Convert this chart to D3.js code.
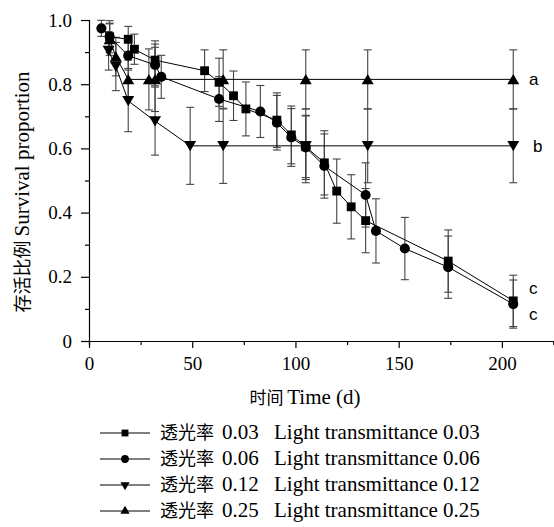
<!DOCTYPE html>
<html lang="zh">
  <head>
    <meta charset="UTF-8" />
    <title>Survival proportion</title>
    <script src="https://d3js.org/d3.v7.min.js"></script>
    <style>
      body { margin: 0; background: #fff; }
      .domain, .tick line { stroke: #000; stroke-width: 1.2; }
      .series { fill: none; stroke: #000; stroke-width: 1; }
      .err { stroke: #444; stroke-width: 1.1; }
    </style>
  </head>
  <body>
    <svg id="canvas" width="554" height="527"></svg>
    <script>
      const SERIF = "Liberation Serif, Times New Roman, DejaVu Serif, serif";
      const CJK = "Noto Sans CJK SC, sans-serif";

      // 数据
      const days03 = [10, 19, 22, 32, 56, 63, 70, 76, 91, 98, 105, 114, 120, 127, 134, 174, 205.5];
      const surv03 = [0.948, 0.94, 0.909, 0.875, 0.842, 0.806, 0.764, 0.723, 0.688, 0.642, 0.605, 0.555, 0.467, 0.418, 0.375, 0.249, 0.125];
      const err03 = [0.05, 0.04, 0.047, 0.06, 0.065, 0.075, 0.077, 0.084, 0.085, 0.09, 0.096, 0.1, 0.1, 0.1, 0.1, 0.097, 0.08];

      const days06 = [6, 10, 19, 32, 35, 63, 83, 91, 98, 105, 114, 134, 139, 153, 174, 205.5];
      const surv06 = [0.974, 0.948, 0.889, 0.86, 0.823, 0.754, 0.715, 0.68, 0.634, 0.603, 0.545, 0.455, 0.343, 0.288, 0.23, 0.115];
      const err06 = [0.025, 0.04, 0.04, 0.065, 0.067, 0.07, 0.081, 0.085, 0.09, 0.1, 0.1, 0.1, 0.1, 0.097, 0.097, 0.075];

      const days12 = [9.5, 13, 19, 32, 49, 65, 105, 135, 205.5];
      const surv12 = [0.904, 0.855, 0.748, 0.685, 0.608, 0.608, 0.608, 0.608, 0.608];
      const err12 = [0.06, 0.075, 0.096, 0.106, 0.12, 0.117, 0.115, 0.115, 0.115];

      const days25 = [10, 13, 19, 29, 32, 65, 105, 135, 205.5];
      const surv25 = [0.94, 0.886, 0.815, 0.815, 0.815, 0.815, 0.815, 0.815, 0.815];
      const err25 = [0.05, 0.06, 0.06, 0.095, 0.1, 0.092, 0.092, 0.092, 0.092];

      const xTicks = [0, 50, 100, 150, 200];
      const yTicks = [0, 0.2, 0.4, 0.6, 0.8, 1.0];
      const groupLetters = ["c", "c", "b", "a"];
      const legendCn = ["透光率", "透光率", "透光率", "透光率"];
      const legendVal = ["0.03", "0.06", "0.12", "0.25"];
      const legendEn = ["Light transmittance 0.03", "Light transmittance 0.06", "Light transmittance 0.12", "Light transmittance 0.25"];

      const series = [
        { days: days03, surv: surv03, err: err03, sym: d3.symbolSquare, size: 78, rot: 0 },
        { days: days06, surv: surv06, err: err06, sym: d3.symbolCircle, size: 80, rot: 0 },
        { days: days12, surv: surv12, err: err12, sym: d3.symbolTriangle, size: 62, rot: 180 },
        { days: days25, surv: surv25, err: err25, sym: d3.symbolTriangle, size: 62, rot: 0 },
      ];

      const svg = d3.select("#canvas");
      const x = d3.scaleLinear().domain([0, 225]).range([89, 553.5]);
      const y = d3.scaleLinear().domain([0, 1]).range([341, 20]);

      // 坐标轴
      const xAxis = svg.append("g").attr("transform", "translate(0,341)");
      xAxis.call(d3.axisBottom(x).tickValues(d3.range(0, 226, 25)).tickSize(4).tickFormat(""));
      xAxis.call((g) => g.selectAll(".tick").filter((d) => xTicks.includes(d)).select("line").attr("y2", 7));
      svg.append("g").attr("transform", "translate(0,341)")
        .call(d3.axisBottom(x).tickValues(xTicks).tickSize(0).tickPadding(16).tickFormat(d3.format("d")))
        .call((g) => g.select(".domain").remove())
        .call((g) => g.selectAll("text").attr("font-family", SERIF).attr("font-size", 19).attr("fill", "#000"));

      const yAxis = svg.append("g").attr("transform", "translate(89,0)");
      yAxis.call(d3.axisLeft(y).tickValues(d3.range(0, 1.01, 0.1)).tickSize(4).tickFormat(""));
      yAxis.call((g) => g.selectAll(".tick").filter((d, i) => i % 2 === 0).select("line").attr("x2", -8));
      svg.append("g").attr("transform", "translate(89,0)")
        .call(d3.axisLeft(y).tickValues(yTicks).tickSize(0).tickPadding(17).tickFormat((d) => (d === 0 ? "0" : d3.format(".1f")(d))))
        .call((g) => g.select(".domain").remove())
        .call((g) => g.selectAll("text").attr("font-family", SERIF).attr("font-size", 19).attr("fill", "#000"));

      // 误差线
      const cap = 4;
      series.forEach((s) => {
        const g = svg.append("g").attr("class", "err");
        s.days.forEach((t, i) => {
          const cx = x(t), hi = y(s.surv[i] + s.err[i]), lo = y(s.surv[i] - s.err[i]);
          g.append("line").attr("x1", cx).attr("x2", cx).attr("y1", hi).attr("y2", lo);
          g.append("line").attr("x1", cx - cap).attr("x2", cx + cap).attr("y1", hi).attr("y2", hi);
          g.append("line").attr("x1", cx - cap).attr("x2", cx + cap).attr("y1", lo).attr("y2", lo);
        });
      });

      // 折线
      const line = d3.line().x((d) => x(d[0])).y((d) => y(d[1]));
      series.forEach((s) => {
        svg.append("path").attr("class", "series").attr("d", line(d3.zip(s.days, s.surv)));
      });

      // 标记
      series.forEach((s) => {
        svg.append("g")
          .selectAll("path")
          .data(d3.zip(s.days, s.surv))
          .enter()
          .append("path")
          .attr("d", d3.symbol().type(s.sym).size(s.size))
          .attr("transform", (d) => `translate(${x(d[0])},${y(d[1]) + (s.sym === d3.symbolTriangle ? (s.rot ? -1.5 : 1.5) : 0)}) rotate(${s.rot})`)
          .attr("fill", "#000");
      });

      // 显著性字母
      const letterY = [surv03[surv03.length - 1] + 0.04, surv06[surv06.length - 1] - 0.03, surv12[surv12.length - 1], surv25[surv25.length - 1]];
      svg.append("g")
        .selectAll("text")
        .data(groupLetters)
        .enter()
        .append("text")
        .attr("x", (d, i) => (i === 2 ? 533 : 529))
        .attr("y", (d, i) => y(letterY[i]))
        .attr("dy", "0.35em")
        .attr("font-family", "Liberation Sans, Arial, sans-serif")
        .attr("font-size", 17)
        .text((d) => d);

      // 轴标题
      const yTitle = svg.append("text")
        .attr("transform", "translate(29,192) rotate(-90)")
        .attr("text-anchor", "middle");
      yTitle.append("tspan").attr("font-family", CJK).attr("font-size", 18).text("存活比例 ");
      yTitle.append("tspan").attr("font-family", SERIF).attr("font-size", 21).text("Survival proportion");

      const xTitle = svg.append("text")
        .attr("x", 305).attr("y", 404)
        .attr("text-anchor", "middle");
      xTitle.append("tspan").attr("font-family", CJK).attr("font-size", 17).text("时间 ");
      xTitle.append("tspan").attr("font-family", SERIF).attr("font-size", 21).text("Time (d)");

      // 图例
      const legend = svg.append("g");
      series.forEach((s, i) => {
        const ly = 433 + i * 26;
        legend.append("line").attr("x1", 100).attr("x2", 150).attr("y1", ly).attr("y2", ly)
          .attr("stroke", "#000").attr("stroke-width", 1);
        legend.append("path")
          .attr("d", d3.symbol().type(s.sym).size(s.size * 0.6))
          .attr("transform", `translate(125,${ly}) rotate(${s.rot})`);
        const t = legend.append("text").attr("x", 160).attr("y", ly).attr("dy", "0.35em");
        t.append("tspan").attr("font-family", CJK).attr("font-size", 18).text(legendCn[i]);
        t.append("tspan").attr("x", 222).attr("font-family", SERIF).attr("font-size", 21).text(legendVal[i]);
        t.append("tspan").attr("x", 274).attr("font-family", SERIF).attr("font-size", 21).text(legendEn[i]);
      });
    </script>
  </body>
</html>
